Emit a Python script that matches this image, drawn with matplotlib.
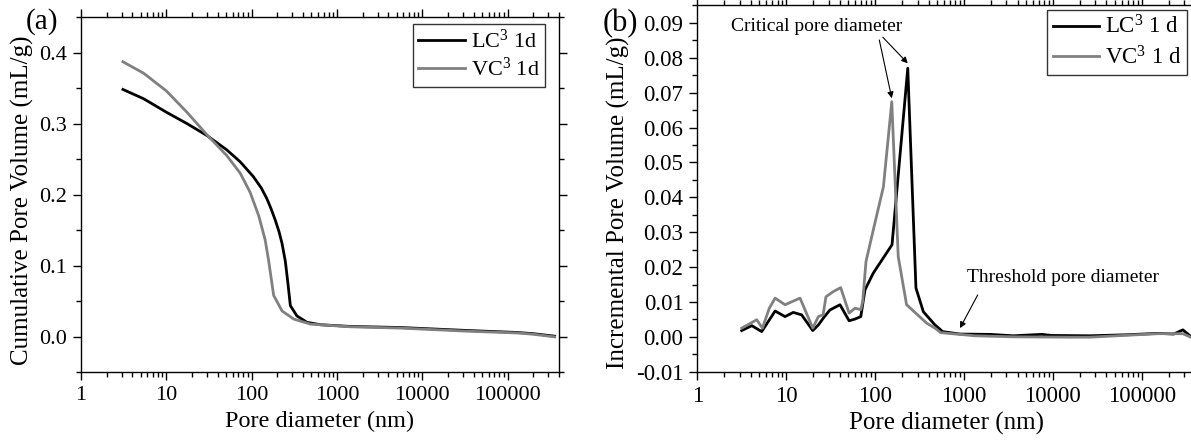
import matplotlib
matplotlib.use('Agg')
import matplotlib.pyplot as plt
from matplotlib.ticker import LogLocator, FuncFormatter, MultipleLocator, NullFormatter

plt.rcParams['font.family'] = 'Liberation Serif'
plt.rcParams['mathtext.fontset'] = 'custom'
plt.rcParams['mathtext.rm'] = 'Liberation Serif'
plt.rcParams['mathtext.default'] = 'regular'

# (a) cumulative pore volume
dia_lc_cum = [3.1, 5.4, 10, 17.4, 30, 51, 73.5, 105, 130, 151, 170, 189, 210, 227, 248, 266, 284,
              339, 445, 640, 1440, 5500, 33600, 130000, 200000, 355000]
lc_cum = [0.348, 0.335, 0.316, 0.300, 0.283, 0.263, 0.246, 0.225, 0.209, 0.194, 0.179, 0.164,
          0.147, 0.131, 0.106, 0.075, 0.0435, 0.029, 0.020, 0.0166, 0.0142, 0.0127, 0.0085,
          0.0057, 0.004, 0.0005]
dia_vc_cum = [3.1, 5.4, 10, 17.4, 30, 51, 73.5, 96, 121, 144, 158, 181, 227, 311, 488, 1440,
              5500, 33600, 130000, 200000, 355000]
vc_cum = [0.387, 0.371, 0.346, 0.316, 0.284, 0.255, 0.230, 0.203, 0.170, 0.136, 0.107, 0.058,
          0.036, 0.0246, 0.0175, 0.0137, 0.0119, 0.0075, 0.005, 0.0032, -0.0005]

# (b) incremental pore volume
dia_lc_inc = [3.16, 4.1, 5.3, 7.5, 9.7, 12, 14.9, 19.9, 23, 26.2, 31, 40.3, 51, 59.4, 69, 77,
              95.5, 155, 233, 288, 349, 472, 575, 897, 1977, 3570, 7500, 9600, 26000, 70000,
              152000, 229000, 290000, 355000]
lc_inc = [0.0018, 0.0032, 0.0015, 0.0074, 0.0058, 0.0070, 0.0063, 0.0018, 0.0034, 0.0054,
          0.0077, 0.0092, 0.0046, 0.0051, 0.0058, 0.0135, 0.0183, 0.0264, 0.077, 0.0140, 0.0072,
          0.0034, 0.0015, 0.0008, 0.0007, 0.0003, 0.0007, 0.0004, 0.0003, 0.0006, 0.001, 0.0008,
          0.002, 0.0001]
dia_vc_inc = [3.16, 4.66, 5.4, 6.45, 7.5, 9.7, 14.3, 19.9, 23, 26, 28, 34, 41, 51, 59.4, 69,
              72.5, 79, 95.5, 124, 154, 182, 226, 381, 472, 547, 1330, 3570, 15800, 26000,
              152000, 290000, 355000]
vc_inc = [0.0025, 0.0049, 0.0025, 0.0082, 0.0111, 0.0092, 0.0111, 0.0025, 0.0058, 0.0063,
          0.0115, 0.013, 0.0141, 0.0068, 0.0082, 0.0078, 0.0101, 0.0216, 0.0307, 0.043, 0.0674,
          0.023, 0.0092, 0.0039, 0.0025, 0.0012, 0.0003, 0.0, -0.0001, -0.0001, 0.0009, 0.0009,
          -0.0001]

fig = plt.figure(figsize=(11.91, 4.4), dpi=100)
ax1 = fig.add_axes([0.0680, 0.1545, 0.4014, 0.8068])
ax2 = fig.add_axes([0.5855, 0.1552, 0.4181, 0.8324])


def xfmt(v, p):
    return '%d' % round(v)


def style(ax, fs):
    ax.set_xscale('log')
    ax.set_xlim(1, 4e5)
    ax.xaxis.set_major_locator(LogLocator(base=10, numticks=10))
    ax.xaxis.set_minor_locator(LogLocator(base=10, subs=range(2, 10), numticks=20))
    ax.xaxis.set_major_formatter(FuncFormatter(xfmt))
    ax.xaxis.set_minor_formatter(NullFormatter())
    ax.tick_params(which='both', direction='out', top=True, right=True,
                   labeltop=False, labelright=False, width=1, labelsize=fs)
    ax.tick_params(which='major', length=6, pad=4)
    ax.tick_params(which='minor', length=3.5)
    for s in ax.spines.values():
        s.set_linewidth(1)


ax1.plot(dia_lc_cum, lc_cum, color='black', lw=2, label='LC$^3$ 1d')
ax1.plot(dia_vc_cum, vc_cum, color='#808080', lw=2, label='VC$^3$ 1d')
style(ax1, 16)
ax1.set_ylim(-0.05, 0.45)
ax1.yaxis.set_major_locator(MultipleLocator(0.1))
ax1.yaxis.set_minor_locator(MultipleLocator(0.05))
ax1.yaxis.set_major_formatter(FuncFormatter(lambda v, p: '%.1f' % (v + 0.0) if v > -0.01 else ''))
ax1.set_xlabel('Pore diameter (nm)', fontsize=17.5, labelpad=4)
ax1.set_ylabel('Cumulative Pore Volume (mL/g)', fontsize=18)
ax1.yaxis.set_label_coords(-0.098, 0.483)
leg1 = ax1.legend(loc='upper right', bbox_to_anchor=(0.9707, 0.980), borderaxespad=0,
                  fontsize=16, frameon=True, fancybox=False, edgecolor='black',
                  handlelength=2.1, handletextpad=0.25, borderpad=0.25, labelspacing=0.22)
leg1.get_frame().set_linewidth(1)
fig.text(0.022, 0.952, '(a)', fontsize=21, ha='left', va='center')

ax2.plot(dia_lc_inc, lc_inc, color='black', lw=2, label='LC$^3$ 1 d')
ax2.plot(dia_vc_inc, vc_inc, color='#808080', lw=2, label='VC$^3$ 1 d')
style(ax2, 16.5)
ax2.set_ylim(-0.01, 0.095)
ax2.yaxis.set_major_locator(MultipleLocator(0.01))
ax2.yaxis.set_minor_locator(MultipleLocator(0.005))
ax2.yaxis.set_major_formatter(FuncFormatter(lambda v, p: ('%.2f' % v).replace('-0.00', '0.00')))
ax2.set_xlabel('Pore diameter (nm)', fontsize=18, labelpad=4)
ax2.set_ylabel('Incremental Pore Volume (mL/g)', fontsize=18)
ax2.yaxis.set_label_coords(-0.135, 0.462)
leg2 = ax2.legend(loc='upper right', bbox_to_anchor=(0.983, 0.9876), borderaxespad=0,
                  fontsize=16.5, frameon=True, fancybox=False, edgecolor='black',
                  handlelength=2.0, handletextpad=0.25, borderpad=0.25, labelspacing=0.3)
leg2.get_frame().set_linewidth(1)
fig.text(0.5063, 0.947, '(b)', fontsize=22, ha='left', va='center')

arrow = dict(arrowstyle='-|>', color='black', lw=0.8, mutation_scale=9, shrinkA=0, shrinkB=0)
ax2.text(22, 0.0889, 'Critical pore diameter', fontsize=14, ha='center', va='center')
ax2.annotate('', xy=(154, 0.0684), xytext=(111.5, 0.0851), arrowprops=arrow)
ax2.annotate('', xy=(233, 0.0784), xytext=(122, 0.0859), arrowprops=arrow)
ax2.text(13000, 0.0169, 'Threshold pore diameter', fontsize=14, ha='center', va='center')
ax2.annotate('', xy=(902, 0.0025), xytext=(1426, 0.012), arrowprops=arrow)

plt.savefig('out.png', dpi=100)
